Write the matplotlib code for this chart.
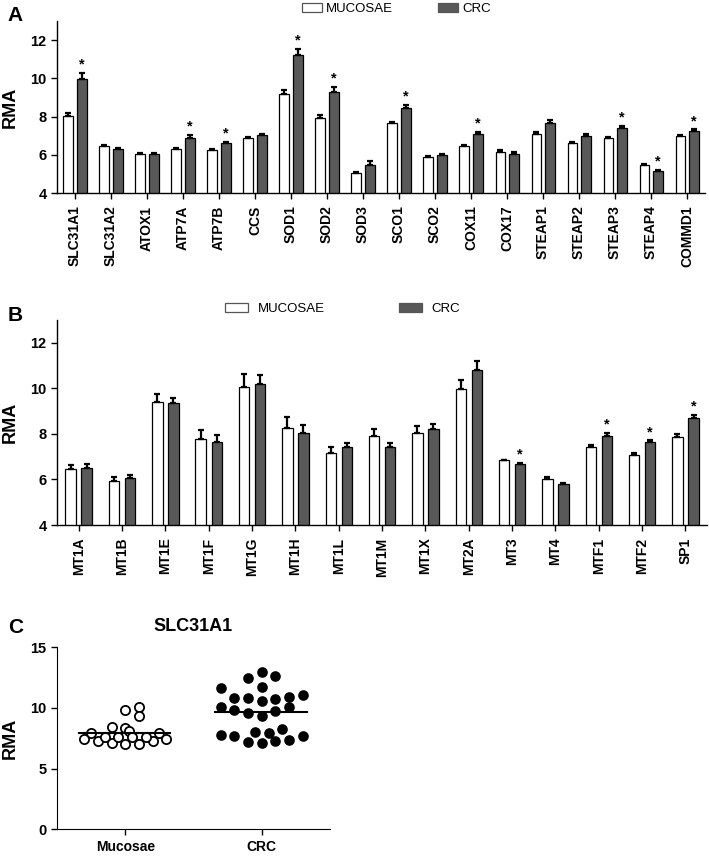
import numpy as np
import matplotlib
matplotlib.use("Agg")
import matplotlib.pyplot as plt
from matplotlib.patches import Patch

plt.rcParams['font.family'] = ['Liberation Sans', 'DejaVu Sans']

# panel A: copper genes
genes_a = ['SLC31A1', 'SLC31A2', 'ATOX1', 'ATP7A', 'ATP7B', 'CCS', 'SOD1', 'SOD2', 'SOD3',
           'SCO1', 'SCO2', 'COX11', 'COX17', 'STEAP1', 'STEAP2', 'STEAP3', 'STEAP4', 'COMMD1']
muc_a = [8.03, 6.45, 6.05, 6.3, 6.25, 6.9, 9.2, 7.95, 5.05, 7.66, 5.88, 6.47, 6.15, 7.1, 6.63, 6.9, 5.47, 7.0]
muc_a_err = [0.15, 0.05, 0.04, 0.05, 0.05, 0.05, 0.2, 0.15, 0.06, 0.08, 0.05, 0.05, 0.08, 0.08, 0.06, 0.05, 0.05, 0.05]
crc_a = [9.97, 6.3, 6.05, 6.9, 6.6, 7.05, 11.25, 9.3, 5.47, 8.45, 6.0, 7.1, 6.05, 7.65, 7.0, 7.42, 5.15, 7.27]
crc_a_err = [0.3, 0.05, 0.04, 0.15, 0.08, 0.05, 0.3, 0.25, 0.2, 0.15, 0.05, 0.08, 0.08, 0.2, 0.1, 0.08, 0.08, 0.06]
sig_a = [1, 0, 0, 1, 1, 0, 1, 1, 0, 1, 0, 1, 0, 0, 0, 1, 1, 1]

# panel B: metallothioneins
genes_b = ['MT1A', 'MT1B', 'MT1E', 'MT1F', 'MT1G', 'MT1H', 'MT1L', 'MT1M', 'MT1X', 'MT2A',
           'MT3', 'MT4', 'MTF1', 'MTF2', 'SP1']
muc_b = [6.44, 5.94, 9.41, 7.76, 10.07, 8.24, 7.17, 7.9, 8.05, 9.95, 6.84, 6.03, 7.41, 7.07, 7.87]
muc_b_err = [0.19, 0.16, 0.33, 0.4, 0.55, 0.5, 0.25, 0.3, 0.3, 0.4, 0.03, 0.08, 0.1, 0.08, 0.12]
crc_b = [6.51, 6.07, 9.34, 7.65, 10.17, 8.05, 7.43, 7.41, 8.2, 10.8, 6.69, 5.8, 7.92, 7.63, 8.68]
crc_b_err = [0.17, 0.12, 0.24, 0.3, 0.4, 0.33, 0.18, 0.18, 0.25, 0.38, 0.03, 0.05, 0.14, 0.08, 0.14]
sig_b = [0, 0, 0, 0, 0, 0, 0, 0, 0, 0, 1, 0, 1, 1, 1]

# panel C: SLC31A1 individual samples (value, horizontal spread within group)
muc_c = [9.84, 10.11, 9.37, 8.46, 8.38, 8.1, 7.97, 7.97, 7.42, 7.31, 7.09, 7.03, 7.03, 7.31, 7.42,
         7.64, 7.64, 7.64, 7.64]
muc_c_jit = [0.0, 0.1, 0.1, -0.1, 0.0, 0.03, -0.25, 0.25, -0.3, -0.2, -0.1, 0.0, 0.1, 0.2, 0.3,
             -0.15, -0.05, 0.05, 0.15]
crc_c = [11.62, 12.45, 12.94, 12.64, 11.7,
         10.8, 10.8, 10.6, 10.77, 10.88, 11.07,
         10.11, 9.84, 9.56, 9.37, 9.75, 10.11,
         7.77, 7.69, 7.23, 7.99, 7.09, 7.91, 7.28, 8.27, 7.36, 7.72]
crc_c_jit = [-0.3, -0.1, 0.0, 0.1, 0.0,
             -0.2, -0.1, 0.0, 0.1, 0.2, 0.3,
             -0.3, -0.2, -0.1, 0.0, 0.1, 0.2,
             -0.3, -0.2, -0.1, -0.05, 0.0, 0.05, 0.1, 0.15, 0.2, 0.3]
muc_c_median = 7.95
crc_c_median = 9.7

dark = '#595959'


def bar_panel(ax, genes, muc, muc_err, crc, crc_err, sig, off, width):
    x = np.arange(len(genes))
    ekw = dict(ecolor='black', elinewidth=1.6, capsize=2.5, capthick=1.6)
    ax.bar(x - off, muc, width, color='white', edgecolor='black', linewidth=0.9,
           yerr=[np.zeros(len(muc)), muc_err], error_kw=ekw, label='MUCOSAE')
    ax.bar(x + off, crc, width, color=dark, edgecolor='black', linewidth=0.9,
           yerr=[np.zeros(len(crc)), crc_err], error_kw=ekw, label='CRC')
    for i in range(len(genes)):
        if sig[i]:
            ax.annotate('*', (x[i] + off, crc[i] + crc_err[i]), xytext=(0, 1),
                        textcoords='offset points', ha='center', va='bottom', fontsize=10.5,
                        fontweight='bold')
    ax.set_xlim(-0.5, len(genes) - 0.5)
    ax.set_ylim(4, 13)
    ax.set_yticks([4, 6, 8, 10, 12])
    ax.set_xticks(x)
    ax.set_xticklabels(genes, rotation=90, fontsize=10, fontweight='bold')
    ax.set_ylabel('RMA', fontsize=13, fontweight='bold', labelpad=8)
    for lab in ax.get_yticklabels():
        lab.set_fontweight('bold')
    ax.tick_params(axis='y', labelsize=10.5, length=4, width=1)
    ax.tick_params(axis='x', length=4, width=1, pad=5)
    ax.spines['top'].set_visible(False)
    ax.spines['right'].set_visible(False)
    for s in ('left', 'bottom'):
        ax.spines[s].set_linewidth(1.0)


fig = plt.figure(figsize=(7.09, 8.59), dpi=100)

handles = [Patch(facecolor='white', edgecolor='#555555', linewidth=0.9),
           Patch(facecolor=dark, edgecolor='#555555', linewidth=0.9)]

axA = fig.add_axes([0.0804, 0.7753, 0.914, 0.2])
bar_panel(axA, genes_a, muc_a, muc_a_err, crc_a, crc_a_err, sig_a, 0.19, 0.26)
axA.legend(handles, ['MUCOSAE', 'CRC'], ncol=2, frameon=False, loc='center',
           bbox_to_anchor=(0.524, 1.07), fontsize=9.5, handlelength=1.5, handleheight=0.7,
           columnspacing=3.4, handletextpad=0.35)

axB = fig.add_axes([0.0804, 0.3888, 0.917, 0.2387])
bar_panel(axB, genes_b, muc_b, muc_b_err, crc_b, crc_b_err, sig_b, 0.185, 0.24)
axB.legend(handles, ['MUCOSAE', 'CRC'], ncol=2, frameon=False, loc='center',
           bbox_to_anchor=(0.439, 1.054), fontsize=9.5, handlelength=1.75, handleheight=0.7,
           columnspacing=5.6, handletextpad=0.7)

axC = fig.add_axes([0.0804, 0.0346, 0.385, 0.2119])
axC.scatter(np.array(muc_c_jit), muc_c, s=44, facecolor='white', edgecolor='black', linewidth=1.3,
            zorder=3)
axC.scatter(1 + np.array(crc_c_jit), crc_c, s=44, facecolor='black', edgecolor='black',
            linewidth=1.0, zorder=3)
axC.plot([-0.34, 0.33], [muc_c_median, muc_c_median], color='black', lw=1.5, zorder=4)
axC.plot([0.66, 1.33], [crc_c_median, crc_c_median], color='black', lw=1.5, zorder=4)
axC.set_xlim(-0.5, 1.5)
axC.set_ylim(0, 15)
axC.set_yticks([0, 5, 10, 15])
axC.set_xticks([0, 1])
axC.set_xticklabels(['Mucosae', 'CRC'], fontsize=10, fontweight='bold')
for lab in axC.get_yticklabels():
    lab.set_fontweight('bold')
axC.tick_params(axis='y', labelsize=10.5, length=4, width=1)
axC.tick_params(axis='x', length=4, width=1)
axC.set_ylabel('RMA', fontsize=13, fontweight='bold', labelpad=8)
axC.set_title('SLC31A1', fontsize=13, fontweight='bold', pad=12)
axC.spines['top'].set_visible(False)
axC.spines['right'].set_visible(False)

fig.text(0.011, 0.982, 'A', fontsize=15, fontweight='bold', va='center')
fig.text(0.011, 0.633, 'B', fontsize=15, fontweight='bold', va='center')
fig.text(0.011, 0.270, 'C', fontsize=15, fontweight='bold', va='center')

fig.savefig('out.png', dpi=100)
